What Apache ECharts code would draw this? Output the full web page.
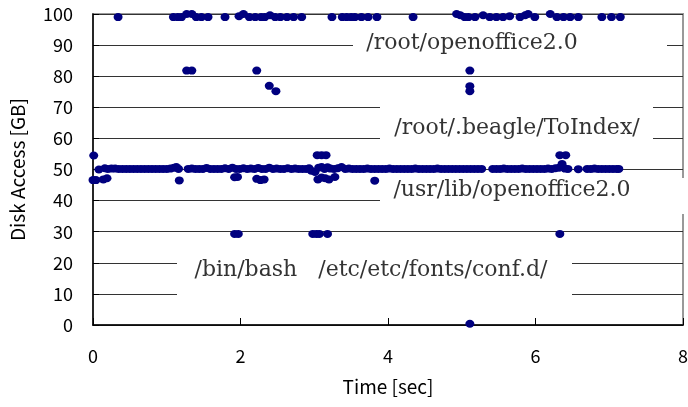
<!DOCTYPE html>
<html>
<head>
<meta charset="utf-8">
<script src="https://cdn.jsdelivr.net/npm/echarts@6/dist/echarts.min.js"></script>
<style>
  html, body { margin: 0; padding: 0; background: #fff; }
  #chart { width: 688px; height: 407px; }
</style>
</head>
<body>
<div id="chart"></div>
<script>
// [time sec, disk access GB]
var topRow = [
  [0.34, 99], [1.09, 99], [1.15, 99], [1.20, 99], [1.27, 100], [1.34, 100], [1.40, 99], [1.47, 99],
  [1.56, 99], [1.79, 99], [1.98, 99.3], [2.04, 100], [2.12, 99], [2.20, 99], [2.28, 99], [2.33, 99],
  [2.40, 99.6], [2.47, 99], [2.54, 99], [2.63, 99], [2.72, 99], [2.83, 99], [3.24, 99], [3.38, 99],
  [3.44, 99], [3.50, 99], [3.55, 99], [3.64, 99], [3.73, 99], [3.85, 99], [4.34, 99], [4.93, 100],
  [4.98, 99.6], [5.04, 99], [5.09, 99], [5.18, 99], [5.29, 99.6], [5.38, 99], [5.47, 99], [5.56, 99],
  [5.65, 99.3], [5.79, 99], [5.86, 99.6], [5.90, 100], [5.99, 99], [6.20, 100], [6.29, 99], [6.38, 99],
  [6.47, 99], [6.58, 99], [6.90, 99], [7.03, 99], [7.15, 99]
]
var upperPts = [
  [1.27, 81.8], [1.34, 81.8], [2.22, 81.8], [2.39, 76.9], [2.48, 75.2],
  [5.11, 81.8], [5.11, 76.8], [5.11, 75.2]
]
var band54 = [
  [0.01, 54.5], [3.04, 54.6], [3.10, 54.6], [3.16, 54.6], [6.33, 54.6], [6.41, 54.6]
]
var band50 = [
  [0.08, 50], [0.16, 50.4], [0.20, 50.2], [0.25, 50.3], [0.30, 50.3], [0.35, 50.2], [0.40, 50.2],
  [0.45, 50.2], [0.50, 50.2], [0.55, 50.2], [0.60, 50.2], [0.65, 50.2], [0.70, 50.2], [0.75, 50.2],
  [0.80, 50.2], [0.85, 50.2], [0.90, 50.2], [0.95, 50.2], [1.00, 50.2], [1.05, 50.3], [1.10, 50.6],
  [1.13, 50.8], [1.16, 50.2],
  [1.29, 50.2], [1.34, 50.3], [1.39, 50.2], [1.44, 50.2], [1.49, 50.2], [1.54, 50.5], [1.59, 50.2],
  [1.64, 50.2], [1.69, 50.2], [1.74, 50.2], [1.79, 50.4], [1.84, 50.2], [1.89, 50.6], [1.94, 50.2],
  [1.99, 50.2], [2.04, 50.4], [2.09, 50.2], [2.14, 50.3], [2.19, 50.2], [2.24, 50.5], [2.29, 50.2],
  [2.34, 50.2], [2.39, 50.6], [2.44, 50.2], [2.49, 50.3], [2.54, 50.2], [2.59, 50.2], [2.64, 50.4],
  [2.69, 50.2], [2.74, 50.3], [2.79, 50.2], [2.84, 50.2], [2.89, 50.2], [2.93, 50.4], [2.96, 49.6],
  [3.01, 49.2], [3.06, 50.6], [3.10, 50.8], [3.14, 50.2], [3.18, 50.7], [3.22, 50.3], [3.27, 50.2],
  [3.32, 50.4], [3.37, 50.8], [3.42, 50.2], [3.47, 50.3], [3.52, 50.2], [3.57, 50.2], [3.62, 50.2],
  [3.67, 50.2], [3.72, 50.3], [3.77, 50.2], [3.82, 50.2], [3.87, 50.2], [3.92, 50.2], [3.97, 50.2],
  [4.02, 50.3], [4.07, 50.2], [4.12, 50.2], [4.17, 50.2], [4.22, 50.2], [4.27, 50.2], [4.32, 50.2],
  [4.37, 50.3], [4.42, 50.2], [4.47, 50.2], [4.52, 50.2], [4.57, 50.2], [4.62, 50.2], [4.67, 50.3],
  [4.72, 50.2], [4.77, 50.2], [4.82, 50.2], [4.87, 50.2], [4.92, 50.2], [4.97, 50.2], [5.02, 50.2],
  [5.07, 50.2], [5.12, 50.2], [5.17, 50.2], [5.22, 50.2], [5.27, 50.2],
  [5.42, 50.2], [5.47, 50.2], [5.52, 50.2], [5.57, 50.3], [5.62, 50.2], [5.67, 50.2], [5.72, 50.2],
  [5.77, 50.2], [5.82, 50.3], [5.87, 50.2], [5.92, 50.2], [5.97, 50.2], [6.02, 50.2], [6.07, 50.2],
  [6.12, 50.2], [6.17, 50.3], [6.22, 50.2], [6.27, 50.4], [6.32, 50.6], [6.36, 51.8], [6.40, 50.3],
  [6.44, 50.2],
  [6.58, 50.1],
  [6.70, 50.2], [6.75, 50.2], [6.80, 50.3], [6.85, 50.2], [6.90, 50.2], [6.95, 50.2], [7.00, 50.2],
  [7.05, 50.2], [7.10, 50.2], [7.13, 50.2]
]
var band47 = [
  [0.00, 46.6], [0.04, 46.6], [0.14, 46.8], [0.19, 47.2], [1.17, 46.5], [1.92, 47.5], [1.96, 47.6],
  [2.22, 47.0], [2.27, 46.6], [2.32, 46.8], [3.05, 46.8], [3.10, 47.4], [3.15, 47.2], [3.20, 46.8],
  [3.28, 47.6], [3.82, 46.4]
]
var band29 = [
  [1.92, 29.3], [1.97, 29.3], [2.98, 29.3], [3.03, 29.3], [3.07, 29.3], [3.18, 29.3], [6.33, 29.3]
]
var bottomPts = [[5.11, 0.4]]

var xTicks = [0, 2, 4, 6, 8]
var yTicks = [0, 10, 20, 30, 40, 50, 60, 70, 80, 90, 100]

var pathLabels = [
  { text: '/root/openoffice2.0', x: 472, y: 43, box: [353, 30, 314, 28] },
  { text: '/root/.beagle/ToIndex/', x: 517, y: 128, box: [380, 100, 273, 45] },
  { text: '/usr/lib/openoffice2.0', x: 512, y: 190, box: [380, 178, 310, 36] },
  { text: '/bin/bash   /etc/etc/fonts/conf.d/', x: 371, y: 270, box: [177, 242, 395, 62] }
]

var axisFont = "'Liberation Sans Narrow', 'Noto Sans CJK JP', sans-serif"
var pathFont = "'DejaVu Serif', 'Liberation Serif', serif"

var graphics = []
pathLabels.forEach(function(l) {
  graphics.push({
    type: 'rect',
    z: 1,
    shape: { x: l.box[0], y: l.box[1], width: l.box[2], height: l.box[3] },
    style: { fill: '#fff' }
  })
  graphics.push({
    type: 'text',
    z: 3,
    x: l.x,
    y: l.y,
    style: {
      text: l.text,
      fill: '#333',
      font: '22px ' + pathFont,
      align: 'center',
      verticalAlign: 'middle'
    }
  })
})

var allPts = [].concat(topRow, upperPts, band54, band50, band47, band29, bottomPts)

var myChart = echarts.init(document.getElementById('chart'))
var option = {
  animation: false,
  backgroundColor: '#fff',
  grid: {
    left: 93,
    right: 5,
    top: 14,
    bottom: 82,
    outerBoundsMode: 'none',
    containLabel: false,
    show: true,
    borderColor: '#999',
    borderWidth: 2
  },
  xAxis: {
    type: 'value',
    min: 0,
    max: 8,
    interval: 2,
    name: 'Time [sec]',
    nameLocation: 'middle',
    nameGap: 52,
    nameTextStyle: { fontFamily: axisFont, fontSize: 19, color: '#000' },
    axisLine: { lineStyle: { color: '#000', width: 1.5 } },
    axisTick: { inside: true, length: 7, lineStyle: { color: '#000' } },
    axisLabel: {
      margin: 22,
      fontFamily: axisFont,
      fontSize: 18,
      color: '#000',
      formatter: function(v) { return xTicks.indexOf(v) >= 0 ? String(v) : '' }
    },
    splitLine: { show: false }
  },
  yAxis: {
    type: 'value',
    min: 0,
    max: 100,
    interval: 10,
    name: 'Disk Access [GB]',
    nameLocation: 'middle',
    nameGap: 66,
    nameTextStyle: { fontFamily: axisFont, fontSize: 19, color: '#000' },
    axisLine: { show: true, lineStyle: { color: '#000', width: 1.5 } },
    axisTick: { show: true, inside: true, length: 6, lineStyle: { color: '#000' } },
    axisLabel: {
      margin: 20,
      fontFamily: axisFont,
      fontSize: 18,
      color: '#000',
      formatter: function(v) { return yTicks.indexOf(v) >= 0 ? String(v) : '' }
    },
    splitLine: { show: true, lineStyle: { color: '#333', width: 1 } }
  },
  graphic: graphics,
  series: [
    {
      type: 'scatter',
      z: 2,
      symbol: 'circle',
      symbolSize: [9, 8],
      clip: false,
      itemStyle: { color: '#00007f', opacity: 1 },
      data: allPts
    }
  ]
}
myChart.setOption(option)
</script>
</body>
</html>
